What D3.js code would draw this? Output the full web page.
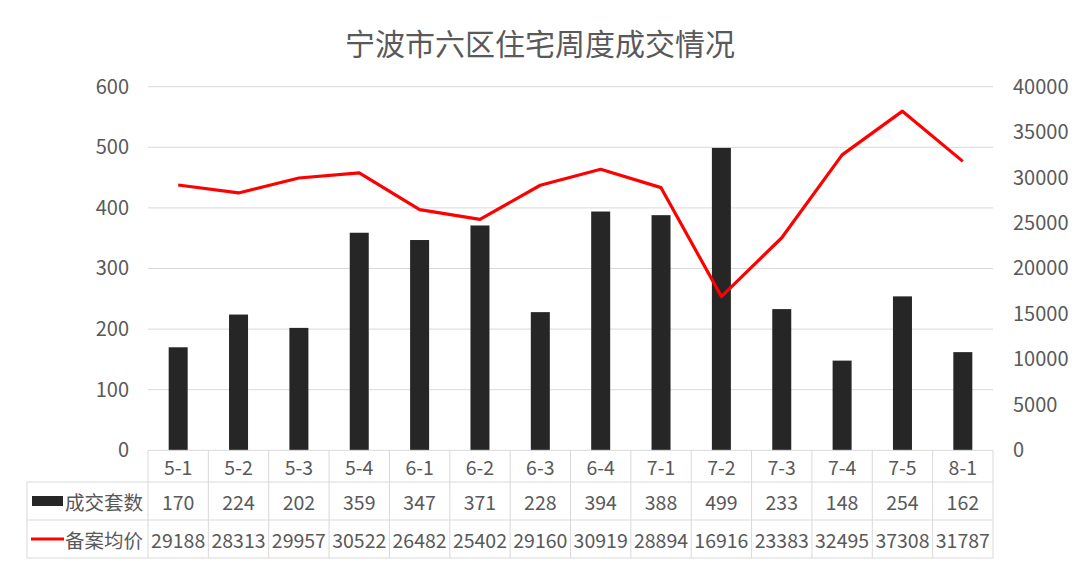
<!DOCTYPE html>
<html>
<head>
<meta charset="utf-8">
<script src="https://cdn.jsdelivr.net/npm/d3@7"></script>
<style>
  body { margin: 0; background: #fff; }
  text { font-family: "Noto Sans CJK SC", "Noto Sans", sans-serif; }
</style>
</head>
<body>
<div id="chart"></div>
<script>
// Chart data
const weeks = ['5-1', '5-2', '5-3', '5-4', '6-1', '6-2', '6-3', '6-4', '7-1', '7-2', '7-3', '7-4', '7-5', '8-1'];
const deals = [170, 224, 202, 359, 347, 371, 228, 394, 388, 499, 233, 148, 254, 162];
const prices = [29188, 28313, 29957, 30522, 26482, 25402, 29160, 30919, 28894, 16916, 23383, 32495, 37308, 31787];
const leftTicks = [0, 100, 200, 300, 400, 500, 600];
const rightTicks = [0, 5000, 10000, 15000, 20000, 25000, 30000, 35000, 40000];
const seriesNames = ['成交套数', '备案均价'];

const width = 1080, height = 568;
const plotLeft = 148, plotRight = 993;
const plotTop = 86.7, plotBottom = 450.3;
const rowEdges = [450.3, 482, 520, 558];
const legendLeft = 27;

const textColor = '#595959';
const gridColor = '#d9d9d9';
const barColor = '#262626';
const lineColor = '#ff0000';

const svg = d3.select('#chart')
    .append('svg')
    .attr('width', width)
    .attr('height', height);

// Scales
const x = d3.scaleBand()
    .domain(weeks)
    .range([plotLeft, plotRight])
    .paddingInner(0)
    .paddingOuter(0);

const yLeft = d3.scaleLinear()
    .domain([0, 600])
    .range([plotBottom, plotTop]);

const yRight = d3.scaleLinear()
    .domain([0, 40000])
    .range([plotBottom, plotTop]);

// Title
svg.append('text')
    .attr('x', 540)
    .attr('y', 42)
    .attr('text-anchor', 'middle')
    .attr('dominant-baseline', 'central')
    .attr('font-size', '30px')
    .attr('fill', textColor)
    .text('宁波市六区住宅周度成交情况');

// Gridlines
svg.append('g')
    .selectAll('line')
    .data(leftTicks.slice(1))
    .enter()
    .append('line')
    .attr('x1', plotLeft)
    .attr('x2', plotRight)
    .attr('y1', d => yLeft(d))
    .attr('y2', d => yLeft(d))
    .attr('stroke', gridColor)
    .attr('stroke-width', 1);

// Left axis
const leftAxis = svg.append('g')
    .attr('transform', 'translate(' + (plotLeft - 19) + ',0)')
    .call(d3.axisLeft(yLeft).tickValues(leftTicks).tickSize(0).tickPadding(0).tickFormat(d3.format('d')));
leftAxis.select('.domain').remove();
leftAxis.selectAll('text')
    .attr('font-size', '20px')
    .attr('fill', textColor)
    .attr('font-family', '"Noto Sans CJK SC", sans-serif');

// Right axis
const rightAxis = svg.append('g')
    .attr('transform', 'translate(' + (plotRight + 20) + ',0)')
    .call(d3.axisRight(yRight).tickValues(rightTicks).tickSize(0).tickPadding(0).tickFormat(d3.format('d')));
rightAxis.select('.domain').remove();
rightAxis.selectAll('text')
    .attr('font-size', '20px')
    .attr('fill', textColor)
    .attr('font-family', '"Noto Sans CJK SC", sans-serif');

// Bars
const barWidth = 19;
svg.append('g')
    .selectAll('rect')
    .data(deals)
    .enter()
    .append('rect')
    .attr('x', (d, i) => x(weeks[i]) + x.bandwidth() / 2 - barWidth / 2)
    .attr('y', d => yLeft(d))
    .attr('width', barWidth)
    .attr('height', d => plotBottom - yLeft(d))
    .attr('fill', barColor);

// Price line
const line = d3.line()
    .x((d, i) => x(weeks[i]) + x.bandwidth() / 2)
    .y(d => yRight(d));

svg.append('path')
    .datum(prices)
    .attr('d', line)
    .attr('fill', 'none')
    .attr('stroke', lineColor)
    .attr('stroke-width', 3.2)
    .attr('stroke-linejoin', 'round');

// Data table
const table = svg.append('g');

// horizontal lines
table.append('line')
    .attr('x1', plotLeft).attr('x2', plotRight)
    .attr('y1', rowEdges[0]).attr('y2', rowEdges[0])
    .attr('stroke', gridColor);
rowEdges.slice(1).forEach(function(yy) {
    table.append('line')
        .attr('x1', legendLeft).attr('x2', plotRight)
        .attr('y1', yy).attr('y2', yy)
        .attr('stroke', gridColor);
});

// vertical lines
const colEdges = weeks.map(w => x(w)).concat([plotRight]);
colEdges.forEach(function(xx) {
    table.append('line')
        .attr('x1', xx).attr('x2', xx)
        .attr('y1', rowEdges[0]).attr('y2', rowEdges[3])
        .attr('stroke', gridColor);
});
table.append('line')
    .attr('x1', legendLeft).attr('x2', legendLeft)
    .attr('y1', rowEdges[1]).attr('y2', rowEdges[3])
    .attr('stroke', gridColor);

const rows = [weeks, deals, prices];
rows.forEach(function(values, r) {
    table.append('g')
        .selectAll('text')
        .data(values)
        .enter()
        .append('text')
        .attr('x', (d, i) => x(weeks[i]) + x.bandwidth() / 2)
        .attr('y', (rowEdges[r] + rowEdges[r + 1]) / 2)
        .attr('text-anchor', 'middle')
        .attr('dominant-baseline', 'central')
        .attr('font-size', '19.5px')
        .attr('fill', textColor)
        .text(d => d);
});

// Legend keys inside table
const row2Mid = (rowEdges[1] + rowEdges[2]) / 2;
const row3Mid = (rowEdges[2] + rowEdges[3]) / 2;

table.append('rect')
    .attr('x', 32)
    .attr('y', row2Mid - 5)
    .attr('width', 31)
    .attr('height', 10)
    .attr('fill', barColor);

table.append('line')
    .attr('x1', 31).attr('x2', 64)
    .attr('y1', row3Mid).attr('y2', row3Mid)
    .attr('stroke', lineColor)
    .attr('stroke-width', 3.2);

[row2Mid, row3Mid].forEach(function(yy, i) {
    table.append('text')
        .attr('x', 65)
        .attr('y', yy)
        .attr('dominant-baseline', 'central')
        .attr('font-size', '19.5px')
        .attr('fill', textColor)
        .text(seriesNames[i]);
});
</script>
</body>
</html>
